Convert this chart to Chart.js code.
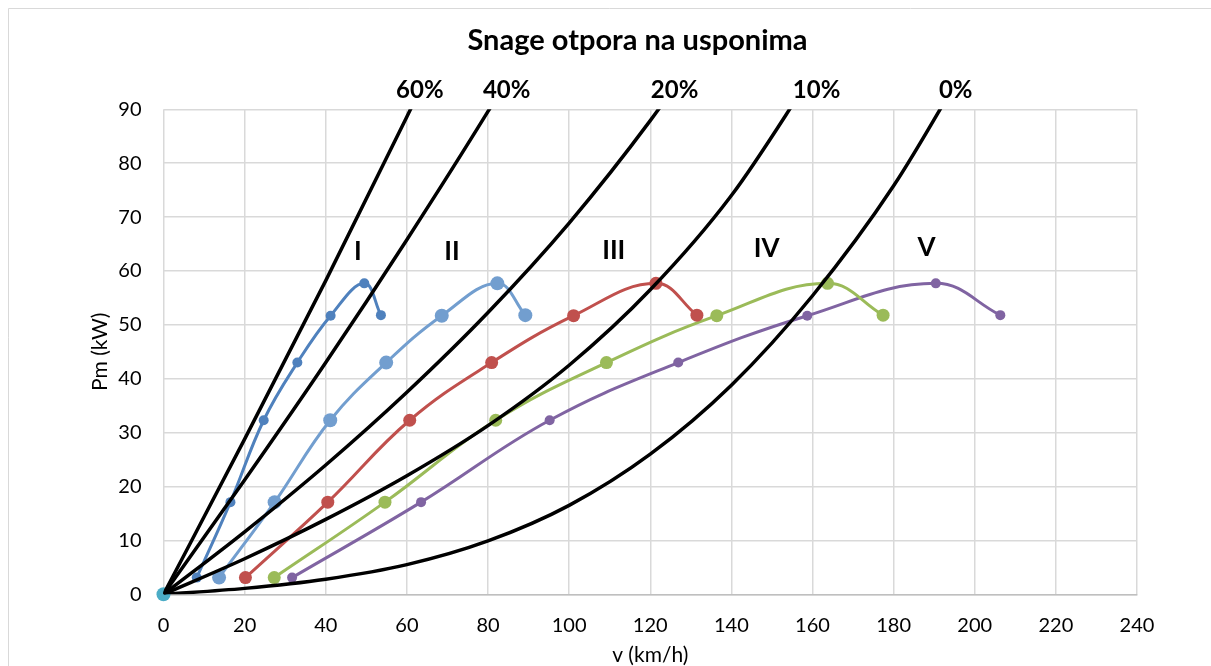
<!DOCTYPE html>
<html>
<head>
<meta charset="utf-8">
<script src="https://cdn.jsdelivr.net/npm/chart.js@4/dist/chart.umd.min.js"></script>
<style>
  html, body { margin: 0; padding: 0; background: #fff; }
</style>
</head>
<body>
<canvas id="chart" width="1211" height="666"></canvas>
<script>
// snaga motora (kW) pri 1000 ... 6000 i 6500 o/min
const enginePower = [3.1, 17.1, 32.3, 43.0, 51.7, 57.7, 51.8];

// brzine (km/h) u pojedinim stupnjevima prijenosa za iste okretaje
const speedI   = [8.2, 16.5, 24.7, 33.0, 41.2, 49.5, 53.6];
const speedII  = [13.7, 27.4, 41.1, 54.9, 68.6, 82.3, 89.2];
const speedIII = [20.2, 40.5, 60.7, 80.9, 101.1, 121.4, 131.5];
const speedIV  = [27.3, 54.6, 81.9, 109.2, 136.4, 163.7, 177.4];
const speedV   = [31.7, 63.5, 95.2, 126.9, 158.7, 190.4, 206.3];

// snage otpora (kW) na usponima, ocitano svakih 20 km/h
const resistSpeed = [0, 20, 40, 60, 80, 100, 120, 140, 160, 180, 200];
const grade0  = [0, 1.1, 2.8, 5.5, 9.9, 16.5, 26.0, 38.8, 55.4, 75.8, 101];
const grade10 = [0, 6.6, 13.9, 22.0, 31.3, 42.5, 56.5, 74.0, 96.5];
const grade20 = [0, 11.6, 24.0, 37.5, 52.3, 68.9, 87.9, 109.4];
const grade40 = [0, 21.2, 43.0, 65.8, 89.6, 114.8];
const grade60 = [0, 28.8, 58.2, 88.6, 120];

// natpisi
const chartTitle = "Snage otpora na usponima";
const gradeNames = ["60%", "40%", "20%", "10%", "0%"];
const gradeLabelSpeed = [63.2, 84.6, 126.0, 161.0, 195.3];
const gradeLabelPower = 93.6;
const gearNames = ["I", "II", "III", "IV", "V"];
const gearLabelSpeed = [47.9, 71.1, 111.0, 148.7, 188.1];
const gearLabelPower = [63.5, 63.5, 63.7, 64.1, 64.4];

const FONT = "Lato";

// parovi (brzina, snaga) za Chart.js
function toPoints(xs, ys) {
    return ys.map((y, i) => ({x: xs[i], y: y}));
}

function resistLine(values) {
    return {
        data: toPoints(resistSpeed, values),
        showLine: true, borderColor: "#000", borderWidth: 3.5,
        pointRadius: 0, cubicInterpolationMode: "monotone",
    };
}

function gearLine(speeds, color, radius) {
    return {
        data: toPoints(speeds, enginePower),
        showLine: true, borderColor: color, borderWidth: 3,
        backgroundColor: color, pointBackgroundColor: color, pointBorderWidth: 0,
        pointRadius: radius, tension: 0.4,
    };
}

// bijela pozadina i tanki okvir grafikona
const frame = {
    id: "frame",
    beforeDraw(chart) {
        const ctx = chart.ctx;
        ctx.save();
        ctx.fillStyle = "#fff";
        ctx.fillRect(0, 0, chart.width, chart.height);
        ctx.strokeStyle = "#d9d9d9";
        ctx.lineWidth = 1;
        ctx.beginPath();
        ctx.moveTo(8.5, chart.height);
        ctx.lineTo(8.5, 8.5);
        ctx.lineTo(chart.width, 8.5);
        ctx.stroke();
        ctx.restore();
    },
};

// naslov, postoci uspona i oznake stupnjeva prijenosa
const labels = {
    id: "labels",
    afterDraw(chart) {
        const {ctx, scales: {x, y}} = chart;
        ctx.save();
        ctx.fillStyle = "#000";
        ctx.textAlign = "center";
        ctx.textBaseline = "middle";
        ctx.font = "bold 29px " + FONT;
        ctx.fillText(chartTitle, chart.width / 2 + 32, 41);
        ctx.font = "bold 24px " + FONT;
        gradeNames.forEach((t, i) => {
            ctx.fillText(t, x.getPixelForValue(gradeLabelSpeed[i]), y.getPixelForValue(gradeLabelPower));
        });
        ctx.font = "bold 26px " + FONT;
        gearNames.forEach((t, i) => {
            ctx.fillText(t, x.getPixelForValue(gearLabelSpeed[i]), y.getPixelForValue(gearLabelPower[i]));
        });
        ctx.restore();
    },
};

new Chart(document.getElementById("chart"), {
    type: "scatter",
    data: {
        datasets: [
            resistLine(grade60),
            resistLine(grade40),
            resistLine(grade20),
            resistLine(grade10),
            resistLine(grade0),
            gearLine(speedI, "#4f81bd", 5),
            gearLine(speedII, "#729ecf", 7),
            gearLine(speedIII, "#c0504d", 6.5),
            gearLine(speedIV, "#9bbb59", 6.5),
            gearLine(speedV, "#8064a2", 5),
            {
                data: [{x: 0, y: 0}], pointRadius: 7, pointBorderWidth: 0,
                backgroundColor: "#4bacc6", clip: false,
            },
        ],
    },
    options: {
        responsive: false,
        animation: false,
        devicePixelRatio: 1,
        layout: {padding: {left: 88, right: 74, top: 109.3, bottom: 0}},
        plugins: {legend: {display: false}, tooltip: {enabled: false}},
        scales: {
            x: {
                min: 0, max: 240,
                ticks: {stepSize: 20, padding: 19, color: "#000", font: {family: FONT, size: 20}},
                grid: {color: "#d9d9d9", lineWidth: 1.5, drawTicks: false},
                border: {color: "#bfbfbf", width: 1.5},
                title: {display: true, text: "v (km/h)", color: "#000",
                        font: {family: FONT, size: 21, lineHeight: 1}, padding: 0},
                afterFit: s => { s.height = 71.7; },
            },
            y: {
                min: 0, max: 90,
                ticks: {stepSize: 10, padding: 22, color: "#000", font: {family: FONT, size: 20}},
                grid: {color: "#d9d9d9", lineWidth: 1.5, drawTicks: false},
                border: {display: false},
                title: {display: true, text: "Pm (kW)", color: "#000",
                        font: {family: FONT, size: 21, lineHeight: 1}, padding: {top: 1.5, bottom: 0}},
                afterFit: s => { s.width = 75.5; },
            },
        },
    },
    plugins: [frame, labels],
});
</script>
</body>
</html>
